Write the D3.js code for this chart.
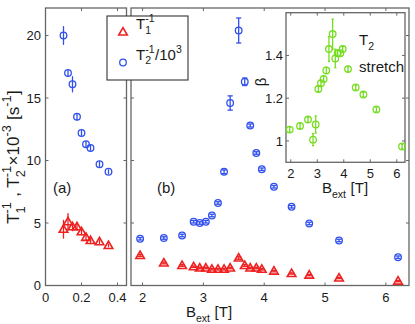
<!DOCTYPE html>
<html>
<head>
<script src="https://cdn.jsdelivr.net/npm/d3@7"></script>
<style>
body { margin:0; background:#ffffff; }
svg text { font-family: "Liberation Sans", Arial, Helvetica, sans-serif; fill:#1a1a1a; white-space: pre; }
</style>
</head>
<body>
<svg id="viz" width="415" height="324"></svg>
<script>
// panel (a) : low field
var lowB     = [0.1, 0.125, 0.15, 0.175, 0.2, 0.225, 0.25, 0.3, 0.35];
var lowT1    = [4.5, 5.1, 4.7, 4.7, 4.3, 3.85, 3.6, 3.5, 3.2];
var lowT1Err = [0.7, 0.65, 0.3, 0.25, 0.25, 0.2, 0.15, 0.15, 0.1];
var lowT2    = [20.0, 17.0, 16.1, 13.5, 12.2, 11.3, 11.0, 9.7, 9.1];
var lowT2Err = [0.7, 0.2, 0.6, 0.25, 0.2, 0.2, 0.25, 0.2, 0.15];

// panel (b) : high field, and the stretch exponent in the inset
var highB     = [1.96, 2.35, 2.65, 2.84, 2.94, 3.04, 3.14, 3.24, 3.34, 3.44, 3.58, 3.68, 3.77, 3.87, 3.96, 4.16, 4.45, 4.74, 5.23, 6.2];
var highT1    = [2.4, 1.8, 1.6, 1.5, 1.4, 1.4, 1.3, 1.3, 1.3, 1.4, 2.2, 1.6, 1.4, 1.4, 1.3, 1.15, 0.96, 0.83, 0.6, 0.35];
var highT1Err = [0.08, 0.07, 0.07, 0.06, 0.06, 0.06, 0.06, 0.06, 0.06, 0.06, 0.1, 0.07, 0.06, 0.06, 0.06, 0.06, 0.05, 0.05, 0.05, 0.05];
var highT2    = [3.74, 3.8, 4.0, 5.1, 5.0, 5.1, 5.6, 6.6, 9.1, 14.6, 20.4, 16.3, 12.8, 10.6, 9.3, 7.9, 6.3, 4.96, 3.6, 2.26];
var highT2Err = [0.1, 0.1, 0.1, 0.1, 0.1, 0.1, 0.1, 0.1, 0.15, 0.57, 1.0, 0.3, 0.12, 0.1, 0.1, 0.1, 0.1, 0.1, 0.1, 0.1];
var beta      = [1.053, 1.07, 1.10, 1.006, 1.077, 1.243, 1.27, 1.29, 1.33, 1.43, 1.50, 1.386, 1.41, 1.41, 1.43, 1.336, 1.25, 1.217, 1.147, 0.974];
var betaErr   = [0.012, 0.012, 0.012, 0.028, 0.04, 0.012, 0.012, 0.012, 0.015, 0.058, 0.07, 0.043, 0.015, 0.012, 0.012, 0.012, 0.01, 0.01, 0.01, 0.01];

var rateTicks = [0, 5, 10, 15, 20];
var lowTicks  = [0, 0.2, 0.4];
var highTicks = [2, 3, 4, 5, 6];
var betaTicks = [1, 1.2, 1.4];

var RED = "#ee2020", BLUE = "#3050ee", GREEN = "#77dd22", AXIS = "#666666";

var svg = d3.select("#viz");

var yRate = d3.scaleLinear().domain([0, 22.2]).range([285.5, 8]);
var xLow  = d3.scaleLinear().domain([0, 0.45]).range([45.5, 126.5]);
var xHigh = d3.scaleLinear().domain([1.81, 6.38]).range([131, 409]);
var xIn   = d3.scaleLinear().domain([1.82, 6.31]).range([286, 405]);
var yIn   = d3.scaleLinear().domain([0.9, 1.6]).range([162.3, 12.7]);

// matlab style box with inward ticks on all four sides
function frame(x, y, xt, yt, fill) {
	var g = svg.append("g");
	var x0 = x.range()[0], x1 = x.range()[1], y0 = y.range()[1], y1 = y.range()[0];
	g.append("rect").attr("x", x0).attr("y", y0).attr("width", x1 - x0).attr("height", y1 - y0)
		.attr("fill", fill).attr("stroke", AXIS).attr("stroke-width", 1.3);
	var tl = 3;
	xt.forEach(function (t) {
		g.append("line").attr("x1", x(t)).attr("x2", x(t)).attr("y1", y1).attr("y2", y1 - tl).attr("stroke", AXIS);
		g.append("line").attr("x1", x(t)).attr("x2", x(t)).attr("y1", y0).attr("y2", y0 + tl).attr("stroke", AXIS);
	});
	yt.forEach(function (t) {
		g.append("line").attr("x1", x0).attr("x2", x0 + tl).attr("y1", y(t)).attr("y2", y(t)).attr("stroke", AXIS);
		g.append("line").attr("x1", x1).attr("x2", x1 - tl).attr("y1", y(t)).attr("y2", y(t)).attr("stroke", AXIS);
	});
	return g;
}

function errorbars(x, y, xs, ys, es, color) {
	var tee = (d3.max(xs) - d3.min(xs)) / 100;
	var g = svg.append("g").attr("stroke", color).attr("stroke-width", 1.3).attr("fill", "none");
	xs.forEach(function (b, i) {
		var lo = ys[i] - es[i], hi = ys[i] + es[i];
		g.append("line").attr("x1", x(b)).attr("x2", x(b)).attr("y1", y(lo)).attr("y2", y(hi));
		[lo, hi].forEach(function (v) {
			g.append("line").attr("x1", x(b - tee)).attr("x2", x(b + tee)).attr("y1", y(v)).attr("y2", y(v));
		});
	});
}

function circles(x, y, xs, ys, color) {
	svg.append("g").selectAll("circle").data(xs).enter().append("circle")
		.attr("cx", function (d) { return x(d); })
		.attr("cy", function (d, i) { return y(ys[i]); })
		.attr("r", 3.3).attr("fill", "none").attr("stroke", color).attr("stroke-width", 1.3);
}

function triangles(x, y, xs, ys, color) {
	var tri = d3.symbol().type(d3.symbolTriangle).size(32);
	svg.append("g").selectAll("path").data(xs).enter().append("path")
		.attr("d", tri)
		.attr("transform", function (d, i) { return "translate(" + x(d) + "," + (y(ys[i]) + 0.5) + ")"; })
		.attr("fill", "none").attr("stroke", color).attr("stroke-width", 1.6);
}

// text with tex-like sub/superscripts, parts laid out left to right
function rich(parent, parts, size, anchor, small) {
	var g = parent.append("g");
	var k = small || 0.7;
	var x = 0;
	function put(t, dy, fs) {
		var el = g.append("text").attr("x", x).attr("y", dy).style("font-size", fs + "px").text(t);
		return el.node().getComputedTextLength();
	}
	parts.forEach(function (p) {
		if (p.t !== undefined) { x += put(p.t, 0, size); return; }
		var w = 0;
		if (p.sub !== undefined) w = Math.max(w, put(p.sub, size * 0.33, size * k));
		if (p.sup !== undefined) w = Math.max(w, put(p.sup, -size * 0.45, size * k));
		x += w + 0.5;
	});
	if (anchor === "middle") g.attr("transform", "translate(" + (-x / 2) + ",0)");
	return g;
}

// frames
frame(xLow, yRate, lowTicks, rateTicks, "none");
frame(xHigh, yRate, highTicks, rateTicks, "none");

// tick labels
svg.append("g").selectAll("text").data(rateTicks).enter().append("text")
	.attr("x", 41).attr("y", function (d) { return yRate(d); }).attr("dy", "0.36em")
	.attr("text-anchor", "end").style("font-size", "13px").text(function (d) { return d; });
svg.append("g").selectAll("text").data(lowTicks).enter().append("text")
	.attr("x", function (d) { return xLow(d); }).attr("y", 302)
	.attr("text-anchor", "middle").style("font-size", "13px").text(function (d) { return d === 0 ? "0" : d3.format(".1f")(d); });
svg.append("g").selectAll("text").data(highTicks).enter().append("text")
	.attr("x", function (d) { return xHigh(d); }).attr("y", 302)
	.attr("text-anchor", "middle").style("font-size", "13px").text(function (d) { return d; });

// data, panel (a)
errorbars(xLow, yRate, lowB, lowT2, lowT2Err, BLUE);
circles(xLow, yRate, lowB, lowT2, BLUE);
errorbars(xLow, yRate, lowB, lowT1, lowT1Err, RED);
triangles(xLow, yRate, lowB, lowT1, RED);

// data, panel (b)
errorbars(xHigh, yRate, highB, highT2, highT2Err, BLUE);
circles(xHigh, yRate, highB, highT2, BLUE);
errorbars(xHigh, yRate, highB, highT1, highT1Err, RED);
triangles(xHigh, yRate, highB, highT1, RED);

svg.append("text").attr("x", 53).attr("y", 193).style("font-size", "15px").text("(a)");
svg.append("text").attr("x", 157).attr("y", 193).style("font-size", "15px").text("(b)");

// axis labels
var yl = svg.append("g").attr("transform", "translate(19,157) rotate(-90)");
rich(yl, [{t: "T"}, {sub: "1", sup: "-1"}, {t: " , T"}, {sub: "2", sup: "-1"}, {t: "\u00d710"}, {sup: "-3"}, {t: " [s"}, {sup: "-1"}, {t: "]"}], 17, "middle", 0.75);
var xl = svg.append("g").attr("transform", "translate(209,317)");
rich(xl, [{t: "B"}, {sub: "ext"}, {t: " [T]"}], 15, "middle");

// inset
frame(xIn, yIn, highTicks, betaTicks, "#ffffff");
errorbars(xIn, yIn, highB, beta, betaErr, GREEN);
circles(xIn, yIn, highB, beta, GREEN);
svg.append("g").selectAll("text").data(betaTicks).enter().append("text")
	.attr("x", 283).attr("y", function (d) { return yIn(d); }).attr("dy", "0.36em")
	.attr("text-anchor", "end").style("font-size", "13px").text(function (d) { return d; });
svg.append("g").selectAll("text").data(highTicks).enter().append("text")
	.attr("x", function (d) { return xIn(d); }).attr("y", 178)
	.attr("text-anchor", "middle").style("font-size", "13px").text(function (d) { return d; });
var il = svg.append("g").attr("transform", "translate(345,193)");
rich(il, [{t: "B"}, {sub: "ext"}, {t: " [T]"}], 15, "middle");
svg.append("text").attr("transform", "translate(266,82) rotate(-90)").attr("text-anchor", "middle")
	.style("font-size", "15px").text("\u03b2");
var tl = svg.append("g").attr("transform", "translate(359,45)");
rich(tl, [{t: "T"}, {sub: "2"}], 15);
svg.append("text").attr("x", 359).attr("y", 72).style("font-size", "15px").text("stretch");

// legend
var lg = svg.append("g");
lg.append("rect").attr("x", 107).attr("y", 16).attr("width", 81).attr("height", 64)
	.attr("fill", "#ffffff").attr("stroke", "#333333").attr("stroke-width", 1.1);
lg.append("path").attr("d", d3.symbol().type(d3.symbolTriangle).size(32))
	.attr("transform", "translate(123,32.5)").attr("fill", "none").attr("stroke", RED).attr("stroke-width", 1.6);
lg.append("circle").attr("cx", 123).attr("cy", 62.5).attr("r", 3.3)
	.attr("fill", "none").attr("stroke", BLUE).attr("stroke-width", 1.3);
rich(lg.append("g").attr("transform", "translate(136,29)"), [{t: "T"}, {sub: "1", sup: "-1"}], 15);
rich(lg.append("g").attr("transform", "translate(136,59.5)"), [{t: "T"}, {sub: "2", sup: "-1"}, {t: "/10"}, {sup: "3"}], 15);
</script>
</body>
</html>
